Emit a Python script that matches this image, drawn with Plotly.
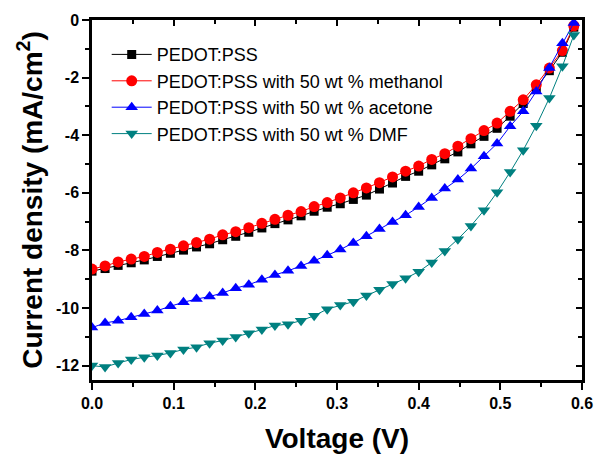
import plotly.graph_objects as go

voltage = [round(i * 0.016, 3) for i in range(37)] + [0.59]

pedot = [-8.72, -8.63, -8.52, -8.43, -8.33, -8.21, -8.10, -7.99, -7.88, -7.77,
         -7.63, -7.51, -7.37, -7.22, -7.07, -6.94, -6.80, -6.64, -6.50, -6.38,
         -6.23, -6.08, -5.87, -5.66, -5.43, -5.25, -5.03, -4.82, -4.58, -4.30,
         -4.04, -3.76, -3.34, -2.90, -2.35, -1.76, -1.12, -0.25]
methanol = [-8.65, -8.54, -8.40, -8.30, -8.21, -8.07, -7.96, -7.84, -7.73, -7.61,
            -7.46, -7.35, -7.21, -7.06, -6.92, -6.78, -6.65, -6.48, -6.34, -6.18,
            -6.00, -5.83, -5.65, -5.45, -5.25, -5.07, -4.84, -4.64, -4.38, -4.12,
            -3.84, -3.58, -3.17, -2.77, -2.25, -1.67, -1.06, -0.20]
acetone = [-10.68, -10.52, -10.44, -10.32, -10.21, -10.09, -9.94, -9.80, -9.69, -9.60,
           -9.48, -9.31, -9.19, -9.02, -8.85, -8.71, -8.54, -8.36, -8.17, -7.97,
           -7.74, -7.51, -7.26, -7.01, -6.78, -6.49, -6.18, -5.85, -5.54, -5.16,
           -4.73, -4.29, -3.69, -3.17, -2.48, -1.67, -0.81, -0.10]
dmf = [-12.00, -12.05, -11.91, -11.79, -11.71, -11.65, -11.56, -11.44, -11.36, -11.22,
       -11.13, -11.01, -10.88, -10.75, -10.61, -10.56, -10.44, -10.27, -10.04, -9.90,
       -9.78, -9.57, -9.37, -9.17, -8.97, -8.74, -8.42, -8.02, -7.61, -7.15,
       -6.61, -5.98, -5.28, -4.52, -3.67, -2.71, -1.61, -0.52]

series_names = ["PEDOT:PSS", "PEDOT:PSS with 50 wt % methanol",
                "PEDOT:PSS with 50 wt % acetone", "PEDOT:PSS with 50 wt % DMF"]
x_tick_vals = [0.0, 0.1, 0.2, 0.3, 0.4, 0.5, 0.6]
x_tick_text = ["0.0", "0.1", "0.2", "0.3", "0.4", "0.5", "0.6"]
y_tick_vals = [0, -2, -4, -6, -8, -10, -12]
y_tick_text = ["0", "-2", "-4", "-6", "-8", "-10", "-12"]

FONT = "Arial, 'Liberation Sans', sans-serif"

styles = [
    dict(color="#000000", symbol="square", size=9),
    dict(color="#FF0000", symbol="circle", size=11),
    dict(color="#0000FF", symbol="triangle-up", size=11),
    dict(color="#008080", symbol="triangle-down", size=11),
]

fig = go.Figure()
for name, ys, st in zip(series_names, [pedot, methanol, acetone, dmf], styles):
    fig.add_trace(go.Scatter(
        x=voltage, y=ys, name=name, mode="lines+markers",
        line=dict(color=st["color"], width=1),
        marker=dict(color=st["color"], symbol=st["symbol"], size=st["size"],
                    line=dict(width=0)),
    ))

# empty trace to activate mirror axes (inward ticks on top/right)
fig.add_trace(go.Scatter(x=[], y=[], xaxis="x2", yaxis="y2", showlegend=False))

axis_common = dict(showgrid=False, zeroline=False, linecolor="black", linewidth=2.5,
                   tickcolor="black", tickwidth=2, automargin=False)

fig.update_layout(
    width=597, height=454,
    margin=dict(l=92, r=15, t=20, b=74),
    paper_bgcolor="white", plot_bgcolor="white",
    font=dict(family=FONT, color="black"),
    xaxis=dict(range=[0, 0.6], tickmode="array", tickvals=x_tick_vals, ticktext=x_tick_text,
               ticks="outside", ticklen=7,
               minor=dict(ticks="outside", dtick=0.05, tick0=0, ticklen=4, tickwidth=2, tickcolor="black"),
               tickfont=dict(size=16, family=FONT, weight="bold"),
               title=dict(text="<b>Voltage (V)</b>", font=dict(size=28, family=FONT), standoff=27),
               **axis_common),
    yaxis=dict(range=[-12.5, 0], tickmode="array", tickvals=y_tick_vals, ticktext=y_tick_text,
               ticks="outside", ticklen=7,
               minor=dict(ticks="outside", dtick=1, tick0=0, ticklen=4, tickwidth=2, tickcolor="black"),
               tickfont=dict(size=16, family=FONT, weight="bold"),
               title=dict(text="<b>Current density (mA/cm<sup>2</sup>)</b>", font=dict(size=28, family=FONT), standoff=6),
               **axis_common),
    xaxis2=dict(range=[0, 0.6], overlaying="x", side="top", anchor="y",
                tickmode="array", tickvals=x_tick_vals, ticks="inside", ticklen=6,
                minor=dict(ticks="inside", dtick=0.05, tick0=0, ticklen=4, tickwidth=2, tickcolor="black"),
                showticklabels=False, **axis_common),
    yaxis2=dict(range=[-12.5, 0], overlaying="y", side="right", anchor="x",
                tickmode="array", tickvals=y_tick_vals, ticks="inside", ticklen=6,
                minor=dict(ticks="inside", dtick=1, tick0=0, ticklen=4, tickwidth=2, tickcolor="black"),
                showticklabels=False, **axis_common),
    legend=dict(x=0.03, y=0.955, xanchor="left", yanchor="top",
                bgcolor="rgba(0,0,0,0)", font=dict(size=18, family=FONT),
                tracegroupgap=0, itemwidth=40),
)

fig.write_html("out.html")
